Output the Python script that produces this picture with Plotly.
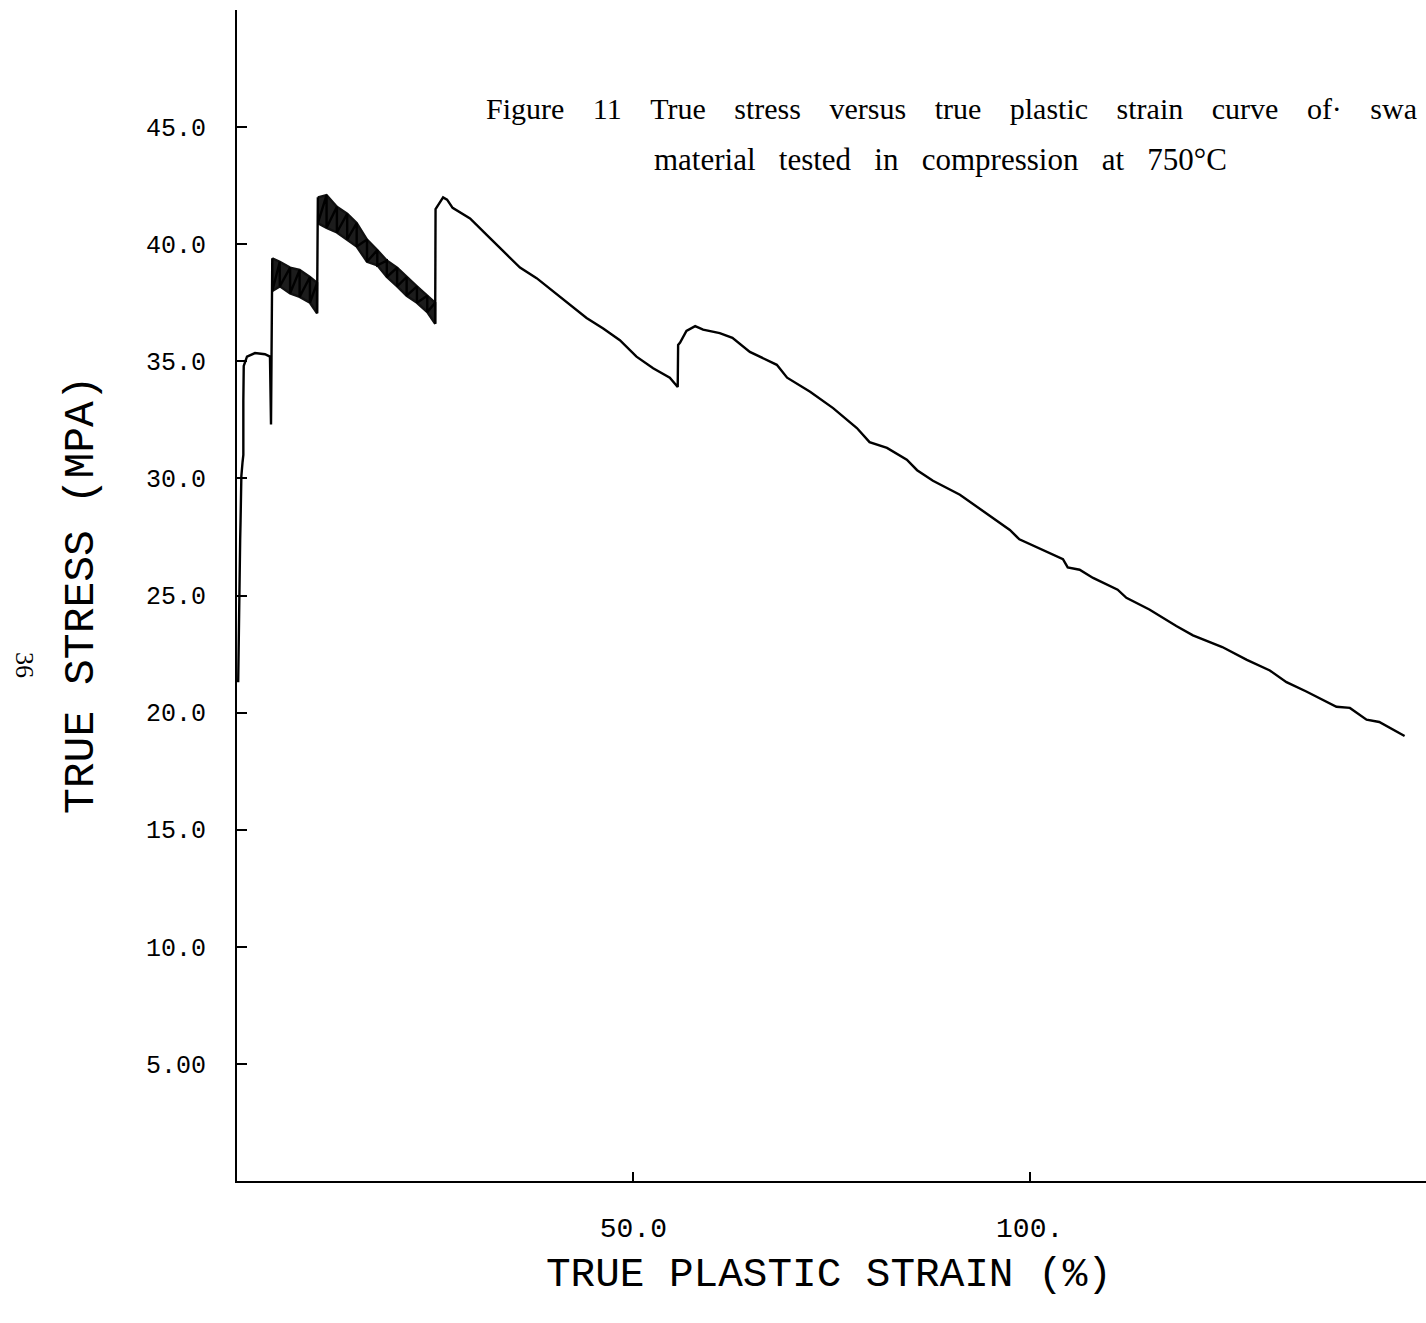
import plotly.graph_objects as go

# ---------------- data ----------------
# initial loading segment + first plateau
strain_start = [0.15, 0.2, 0.25, 0.3, 0.4, 0.45, 0.5, 0.55, 0.7, 0.8, 0.8, 0.85,
                1.26, 2.27, 3.53, 4.16, 4.29, 4.32, 4.4]
stress_start = [21.3, 23.1, 24.8, 26.5, 27.4, 28.2, 29.7, 30.1, 30.7, 31.0, 33.3, 34.8,
                35.2, 35.35, 35.3, 35.2, 32.3, 35.0, 38.2]

# first noisy band (upper / lower envelope)
band1_strain = [4.45, 5.4, 6.7, 7.9, 9.2, 10.1]
band1_upper = [39.4, 39.25, 39.0, 38.9, 38.6, 38.35]
band1_lower = [38.0, 38.2, 37.9, 37.75, 37.5, 37.05]

# second noisy band (upper / lower envelope)
band2_strain = [10.2, 11.3, 12.6, 13.9, 15.1, 16.4, 17.7, 18.9, 20.2, 21.4, 22.7, 24.0, 25.0]
band2_upper = [42.0, 42.1, 41.6, 41.3, 40.9, 40.2, 39.75, 39.3, 39.0, 38.6, 38.2, 37.8, 37.5]
band2_lower = [40.9, 40.7, 40.5, 40.2, 39.9, 39.25, 39.1, 38.6, 38.2, 37.8, 37.5, 37.1, 36.6]

# softening part of the curve
strain_end = [25.05, 26.0, 26.5, 27.2, 29.4, 31.5, 33.5, 35.7, 37.8, 39.8, 42.0, 44.1, 46.2,
              48.3, 50.4, 52.5, 54.6, 55.6, 55.65, 55.9, 56.7, 57.8, 58.8, 60.9, 62.5,
              64.7, 68.1, 69.4, 72.3, 75.2, 78.2, 79.8, 82.0, 84.5, 85.8, 87.8, 91.2,
              94.1, 97.5, 98.7, 101.3, 104.2, 104.8, 106.3, 108.0, 111.1, 112.2, 115.1,
              118.5, 120.6, 124.3, 127.4, 130.3, 132.4, 134.9, 138.7, 140.4, 142.5,
              144.1, 147.3]
stress_end = [41.5, 42.0, 41.9, 41.55, 41.1, 40.4, 39.75, 39.0, 38.55, 38.0, 37.4, 36.85, 36.4,
              35.9, 35.2, 34.7, 34.3, 33.9, 35.7, 35.8, 36.3, 36.5, 36.35, 36.2, 36.0,
              35.4, 34.85, 34.3, 33.7, 33.0, 32.15, 31.55, 31.3, 30.8, 30.35, 29.9, 29.3,
              28.6, 27.8, 27.4, 27.0, 26.55, 26.2, 26.1, 25.75, 25.25, 24.9, 24.4,
              23.7, 23.3, 22.8, 22.25, 21.8, 21.3, 20.9, 20.25, 20.2, 19.7,
              19.6, 19.0]

x_tickvals = [50, 100]
x_ticktext = ["50.0", "100."]
y_tickvals = [5, 10, 15, 20, 25, 30, 35, 40, 45]
y_ticktext = ["5.00", "10.0", "15.0", "20.0", "25.0", "30.0", "35.0", "40.0", "45.0"]

caption_line1 = ["Figure", "11", "True", "stress", "versus", "true", "plastic",
                 "strain", "curve", "of\u00b7", "swa"]
caption_line2 = ["material", "tested", "in", "compression", "at", "750°C"]

# ---------------- build curve ----------------
def zigzag(xs, up, lo):
    px, py = [], []
    for x, u, l in zip(xs, up, lo):
        px += [x, x]
        py += [u, l]
    return px, py

z1x, z1y = zigzag(band1_strain, band1_upper, band1_lower)
z2x, z2y = zigzag(band2_strain, band2_upper, band2_lower)

curve_x = strain_start + z1x + [10.15] + z2x + strain_end
curve_y = stress_start + z1y + [42.0] + z2y + stress_end

fig = go.Figure()

for bx, bu, bl in [(band1_strain, band1_upper, band1_lower),
                   (band2_strain, band2_upper, band2_lower)]:
    fig.add_trace(go.Scatter(
        x=bx + bx[::-1], y=bu + bl[::-1], mode="lines", fill="toself",
        fillcolor="#1c1c1c", line=dict(color="#111111", width=2.4),
        hoverinfo="skip", showlegend=False))

fig.add_trace(go.Scatter(x=curve_x, y=curve_y, mode="lines",
                         line=dict(color="#000000", width=2.4),
                         showlegend=False))

mono = "Liberation Mono"
serif = "Liberation Serif"

fig.update_layout(
    width=1426, height=1323,
    margin=dict(l=237, r=0, t=10, b=142),
    paper_bgcolor="white", plot_bgcolor="white",
    xaxis=dict(range=[0, 150], showgrid=False, zeroline=False,
               showline=True, linecolor="black", linewidth=2,
               ticks="inside", ticklen=9, tickwidth=2, tickcolor="black",
               tickvals=x_tickvals, ticktext=x_ticktext,
               tickfont=dict(family=mono, size=28, color="black"),
               ticklabelstandoff=20),
    yaxis=dict(range=[0, 50], showgrid=False, zeroline=False,
               showline=True, linecolor="black", linewidth=2,
               ticks="inside", ticklen=10, tickwidth=2, tickcolor="black",
               tickvals=y_tickvals, ticktext=y_ticktext,
               tickfont=dict(family=mono, size=25, color="black"),
               ticklabelstandoff=24),
)

def px2x(px):
    return (px - 237) / 1189.0

def py2y(py):
    return (1181 - py) / 1171.0

gap1 = "\u00a0" * 3 + "\u2009"
gap2 = "\u00a0" * 3
line1 = gap1.join(caption_line1)
line2 = gap2.join(caption_line2)

fig.add_annotation(text=line1, xref="paper", yref="paper", x=px2x(484), y=py2y(108),
                   xanchor="left", yanchor="middle", showarrow=False,
                   font=dict(family=serif, size=30, color="black"))
fig.add_annotation(text=line2, xref="paper", yref="paper", x=px2x(940), y=py2y(160),
                   xanchor="center", yanchor="middle", showarrow=False,
                   font=dict(family=serif, size=31, color="black"))

fig.add_annotation(text="TRUE STRESS (MPA)", xref="paper", yref="paper",
                   x=px2x(82), y=py2y(595), textangle=-90,
                   xanchor="center", yanchor="middle", showarrow=False,
                   font=dict(family=mono, size=43, color="black"))
fig.add_annotation(text="TRUE PLASTIC STRAIN (%)", xref="paper", yref="paper",
                   x=px2x(829), y=py2y(1275),
                   xanchor="center", yanchor="middle", showarrow=False,
                   font=dict(family=mono, size=41, color="black"))
fig.add_annotation(text="36", xref="paper", yref="paper",
                   x=px2x(25), y=py2y(665), textangle=90,
                   xanchor="center", yanchor="middle", showarrow=False,
                   font=dict(family=serif, size=26, color="black"))

fig.write_html("out.html")
